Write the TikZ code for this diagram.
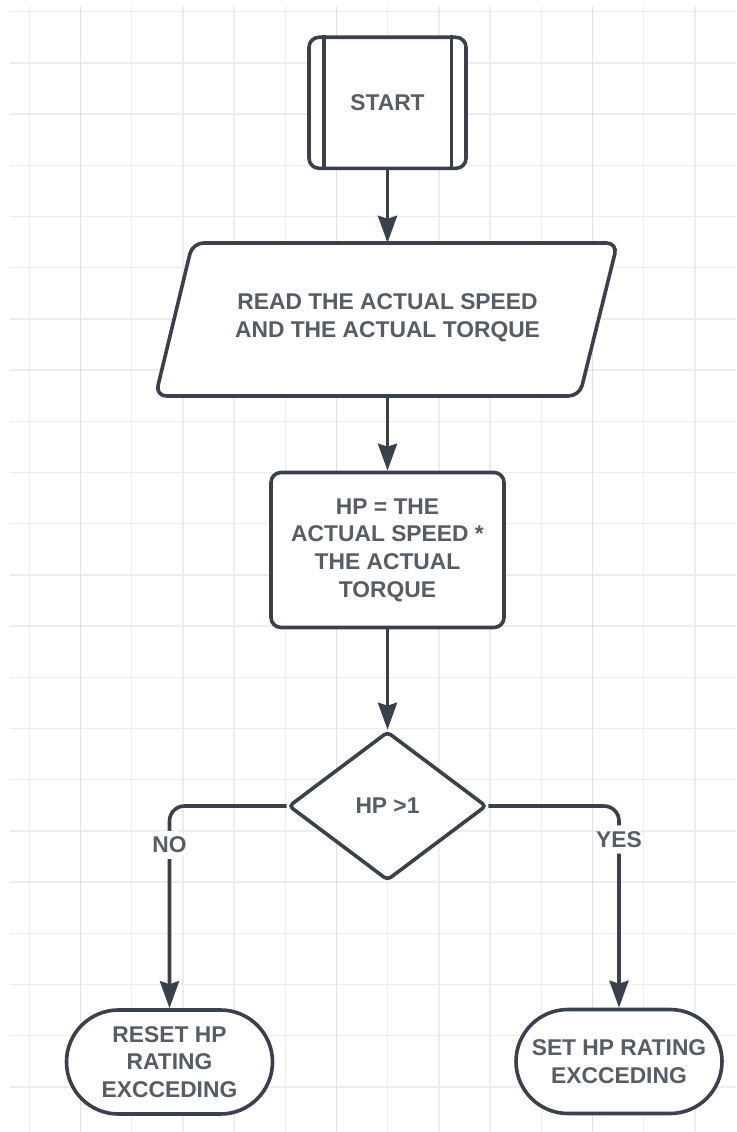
\documentclass[tikz,border=0pt]{standalone}
\usepackage{fontspec}
\setmainfont{Liberation Sans}
\usetikzlibrary{shapes.geometric,shapes.misc,arrows.meta,calc}
\definecolor{ink}{RGB}{58,65,74}
\definecolor{txt}{RGB}{88,92,100}
\definecolor{gridminor}{RGB}{237,237,237}
\definecolor{gridmajor}{RGB}{224,224,224}

\begin{document}
\begin{tikzpicture}[x=1pt,y=-1pt,
  labelfont/.style={font=\fontsize{22.8}{27.6}\selectfont\bfseries},
  box/.style={draw=ink, line width=3.6pt, fill=white, text=txt, align=center,
    inner sep=0pt, labelfont},
  procbox/.style={box, rectangle, rounded corners=10pt},
  decbox/.style={box, diamond, aspect=1.33, rounded corners=4pt},
  endbox/.style={box, rounded rectangle, minimum width=206pt, minimum height=104pt},
  flow/.style={draw=ink, line width=3.6pt,
    -{Stealth[length=27pt,width=19pt,inset=3pt]}},
  branchlabel/.style={fill=white, text=txt, labelfont, inner xsep=2pt, inner ysep=6pt},
  gridline/.style={draw=gridminor, line width=1.4pt},
  gridbold/.style={draw=gridmajor, line width=1.6pt}
]
\useasboundingbox (0,0) rectangle (736,1132);
\fill[white] (0,0) rectangle (736,1132);

% background grid
\foreach \j in {0,...,21}
  \draw[gridline] (10,{11.7+51.2*\j}) -- (736,{11.7+51.2*\j});
\foreach \i in {0,...,13}
  \draw[gridline] ({29.3+51.2*\i},6) -- ({29.3+51.2*\i},1132);
\foreach \i in {1,6,11}
  \draw[gridbold] ({29.3+51.2*\i},6) -- ({29.3+51.2*\i},1132);

% start: predefined-process box
\node[procbox, minimum width=157pt, minimum height=131pt] (start) at (387.5,102.8) {START};
\draw[draw=ink, line width=3.6pt] ($(start.north west)+(16.5,0)$) -- ($(start.south west)+(16.5,0)$);
\draw[draw=ink, line width=3.6pt] ($(start.north east)+(-16.5,0)$) -- ($(start.south east)+(-16.5,0)$);

% input: parallelogram drawn around a named text node
\node[inner sep=0pt, minimum width=390pt, minimum height=153pt] (read) at (387.5,319.5) {};
\draw[draw=ink, line width=3.6pt, fill=white, rounded corners=11pt]
  ($(read.center)+(-195,-76.5)$) -- ($(read.center)+(230,-76.5)$)
  -- ($(read.center)+(192,76.5)$) -- ($(read.center)+(-232,76.5)$) -- cycle;
\node[text=txt, align=center, labelfont] at ($(read.center)+(0,-2)$)
  {READ THE ACTUAL SPEED\\AND THE ACTUAL TORQUE};

% computation
\node[procbox, minimum width=233pt, minimum height=155pt] (hp) at (387.5,550)
  {HP = THE\\ACTUAL SPEED *\\THE ACTUAL\\TORQUE};

% decision
\node[decbox, minimum width=198pt, minimum height=149pt] (dec) at (387.5,806) {HP >1};

% outcomes
\node[endbox] (reset) at (169.5,1062) {RESET HP\\RATING\\EXCCEDING};
\node[endbox] (set) at (619,1061.5) {SET HP RATING\\EXCCEDING};

% connectors
\draw[flow] (start.south) -- (read.north);
\draw[flow] (read.south) -- (hp.north);
\draw[flow] (hp.south) -- (dec.north);
\draw[flow, rounded corners=15pt] (dec.west) -| node[branchlabel, pos=0.596] (no) {NO} (reset.north);
\draw[flow, rounded corners=15pt] (dec.east) -| node[branchlabel, pos=0.583] (yes) {YES} (set.north);
\end{tikzpicture}
\end{document}
